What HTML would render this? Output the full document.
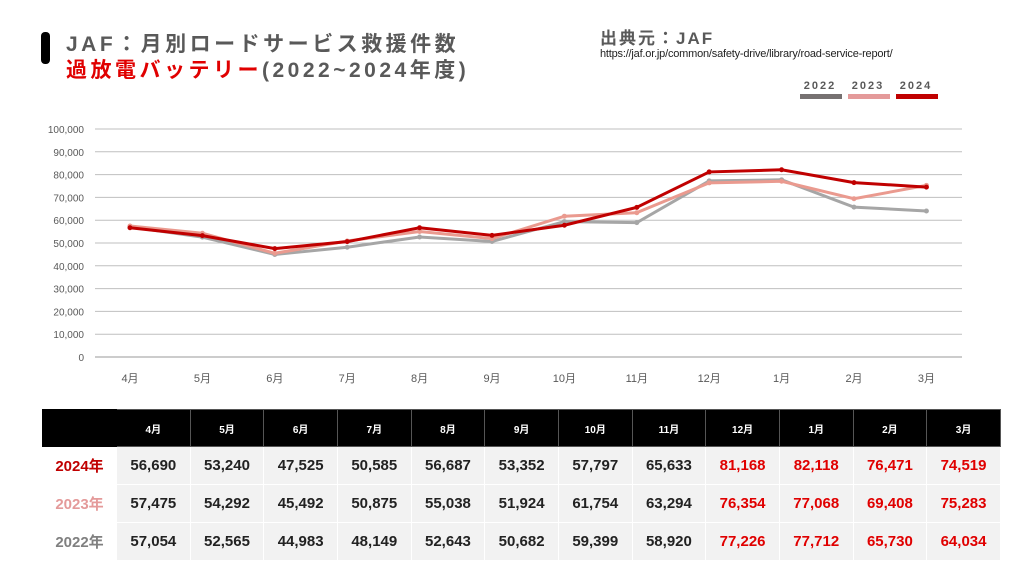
<!DOCTYPE html>
<html><head><meta charset="utf-8"><style>
body{margin:0;width:1024px;height:576px;background:#fff;font-family:"Liberation Sans","Noto Sans CJK JP",sans-serif;position:relative;overflow:hidden}
.t1{position:absolute;left:66px;top:28px;font-size:21px;font-weight:bold;color:#595959;letter-spacing:3.5px}
.t2{position:absolute;left:66px;top:54px;font-size:21px;font-weight:bold;color:#595959;letter-spacing:3.5px}
.bar{position:absolute;left:41px;top:32px;width:9px;height:32px;background:#000;border-radius:4px}
.src{position:absolute;left:600px;top:24px;font-size:17px;font-weight:bold;color:#595959;letter-spacing:2px}
.url{position:absolute;left:600px;top:48px;font-size:11px;color:#222;letter-spacing:-0.2px}
table{position:absolute;left:42px;top:409px;border-collapse:collapse;table-layout:fixed;width:958px}
td{height:37px;text-align:center;font-size:15px;font-weight:bold;color:#222;background:#f2f2f2;border:1px solid #fff;padding:0}
tr.h td{background:#000;color:#fff;font-size:10px;border-color:#555;height:36px}
td.y{background:#fff;font-size:15px;font-weight:bold}
.r{color:#e00000}
</style></head><body>
<div class="bar"></div>
<div class="t1">JAF：月別ロードサービス救援件数</div>
<div class="t2"><span style="color:#e00000">過放電バッテリー</span>(2022~2024年度)</div>
<div class="src">出典元：JAF</div>
<div class="url">https://jaf.or.jp/common/safety-drive/library/road-service-report/</div>
<svg id="c" width="1024" height="400" style="position:absolute;left:0;top:0"></svg>
<table>
<colgroup><col style="width:74px"><col span="12" style="width:73.67px"></colgroup>
<tr class="h"><td style="border-color:#000"></td><td>4月</td><td>5月</td><td>6月</td><td>7月</td><td>8月</td><td>9月</td><td>10月</td><td>11月</td><td>12月</td><td>1月</td><td>2月</td><td>3月</td></tr>
<tr><td class="y" style="color:#c00000">2024年</td><td>56,690</td><td>53,240</td><td>47,525</td><td>50,585</td><td>56,687</td><td>53,352</td><td>57,797</td><td>65,633</td><td class="r">81,168</td><td class="r">82,118</td><td class="r">76,471</td><td class="r">74,519</td></tr>
<tr><td class="y" style="color:#e49a9a">2023年</td><td>57,475</td><td>54,292</td><td>45,492</td><td>50,875</td><td>55,038</td><td>51,924</td><td>61,754</td><td>63,294</td><td class="r">76,354</td><td class="r">77,068</td><td class="r">69,408</td><td class="r">75,283</td></tr>
<tr><td class="y" style="color:#808080">2022年</td><td>57,054</td><td>52,565</td><td>44,983</td><td>48,149</td><td>52,643</td><td>50,682</td><td>59,399</td><td>58,920</td><td class="r">77,226</td><td class="r">77,712</td><td class="r">65,730</td><td class="r">64,034</td></tr>
</table>
<script>
var s='';var Y=v=>357-v*0.00228;
for(var i=0;i<=10;i++){var y=Y(i*10000);s+='<line x1="95" x2="962" y1="'+y+'" y2="'+y+'" stroke="'+(i?'#bfbfbf':'#999')+'" stroke-width="1"/>';s+='<text x="84" y="'+(y+4)+'" font-size="10" fill="#595959" text-anchor="end">'+(i?(i*10000).toLocaleString('en-US'):'0')+'</text>';}
var m=['4月','5月','6月','7月','8月','9月','10月','11月','12月','1月','2月','3月'];
m.forEach((t,i)=>{s+='<text x="'+(130+i*72.4)+'" y="382" font-size="11" fill="#595959" text-anchor="middle">'+t+'</text>'});
var d=[[[57054,52565,44983,48149,52643,50682,59399,58920,77226,77712,65730,64034],'#a6a6a6'],[[57475,54292,45492,50875,55038,51924,61754,63294,76354,77068,69408,75283],'#ea9a8f'],[[56690,53240,47525,50585,56687,53352,57797,65633,81168,82118,76471,74519],'#c00000']];
d.forEach(a=>{var p=a[0].map((v,i)=>(130+i*72.4)+','+Y(v));s+='<polyline points="'+p.join(' ')+'" fill="none" stroke="'+a[1]+'" stroke-width="3"/>';p.forEach(q=>{var c=q.split(',');s+='<circle cx="'+c[0]+'" cy="'+c[1]+'" r="2.5" fill="'+a[1]+'"/>'});});
[['2022','#767171',800],['2023','#e49a9a',848],['2024','#c00000',896]].forEach(a=>{s+='<text x="'+(a[2]+20)+'" y="89" font-size="11" font-weight="bold" fill="#595959" text-anchor="middle" letter-spacing="2">'+a[0]+'</text><rect x="'+a[2]+'" y="94" width="42" height="5" fill="'+a[1]+'"/>'});
document.getElementById('c').innerHTML=s;
</script>
</body></html>
